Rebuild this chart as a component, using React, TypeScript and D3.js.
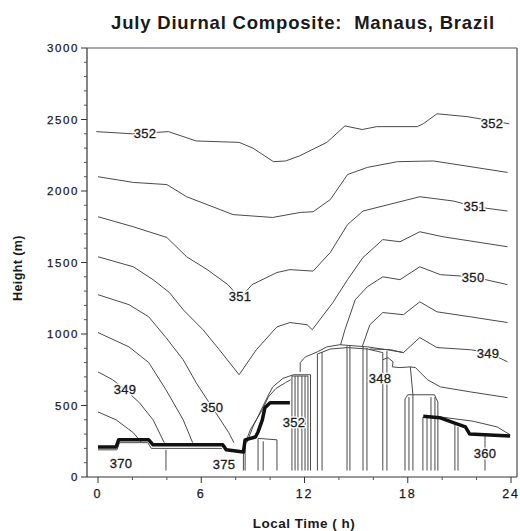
import React from 'react';
import * as d3 from 'd3';

type P = [number, number];

// ---- axis ticks ----
const xMajorTicks = [0, 6, 12, 18, 24];
const xMinorTicks = [2, 4, 8, 10, 14, 16, 20, 22];
const yMajorTicks = [0, 500, 1000, 1500, 2000, 2500, 3000];
const yMinorTicks = d3.range(0, 3001, 100).filter((v) => v % 500 !== 0);

// ---- contour lines (hour, height m) ----
const c352: P[] = [[-0.1,2415],[2.0,2400],[4.1,2415],[5.7,2350],[8.2,2340],[9.0,2300],[10.2,2205],[10.9,2210],[11.7,2245],[13.3,2340],[14.35,2455],[15.35,2430],[16.2,2450],[18.55,2450],[18.9,2470],[19.7,2540],[21.45,2520],[23.9,2470]];
const c3515: P[] = [[0,2100],[2.05,2060],[4.0,2045],[5.15,1960],[7.85,1835],[10.15,1815],[11.75,1850],[12.5,1855],[13.5,1940],[14.5,2115],[15.65,2165],[17.4,2205],[19.5,2210],[23.8,2130]];
const c351: P[] = [[0,1820],[2.05,1750],[4.0,1675],[5.15,1540],[6.35,1450],[7.55,1345],[8.25,1250],[8.95,1345],[10.4,1430],[11.15,1450],[12.5,1440],[13.5,1570],[14.5,1765],[15.4,1860],[17.55,1925],[18.7,1960],[20.65,1930],[21.9,1890],[23.8,1860]];
const c3505: P[] = [[0,1540],[2.05,1470],[3.2,1380],[4.15,1290],[4.95,1170],[6.1,1030],[7.05,890],[8.2,715],[9.2,890],[10.4,1050],[11.15,1080],[12.15,1065],[12.45,1030],[13.65,1220],[14.5,1380],[15.4,1535],[16.55,1660],[17.55,1645],[18.7,1715],[20.05,1680],[23.8,1610]];
const c350Left: P[] = [[0,1275],[1.8,1205],[2.95,1120],[3.95,975],[4.95,820],[5.7,660],[6.65,485],[7.6,310],[7.9,240]];
const c350Right: P[] = [[14.1,925],[14.35,1030],[14.95,1240],[15.65,1330],[16.55,1400],[17.55,1380],[18.7,1470],[19.9,1415],[21.8,1400],[23.8,1345]];
const c3495Left: P[] = [[0,1010],[1.8,910],[2.95,800],[3.95,610],[4.95,400],[5.5,240]];
const c3495Right: P[] = [[15.35,910],[15.8,1065],[16.55,1150],[17.75,1135],[18.7,1225],[19.7,1155],[21.65,1120],[23.8,1080]];
const c349Left: P[] = [[0,735],[0.85,680],[1.55,615],[2.4,520],[3.2,400],[3.85,240]];
const c349Right: P[] = [[15.8,895],[17.0,890],[17.75,870],[18.7,975],[19.7,905],[21.65,890],[22.7,870],[23.8,805]];
const c3485Left: P[] = [[0,455],[1.05,400],[2.05,310],[2.5,245]];
const c348: P[] = [[16.55,820],[16.85,835],[17.15,805],[17.1,770],[17.55,765],[18.15,770],[18.45,765],[19.15,680],[19.9,630],[21.65,595],[23.8,555]];
const c348Drop: P[] = [[18.15,770],[18.3,575]];
const eveningCurve: P[] = [[19.9,420],[21.8,390],[23.2,350],[23.95,295]];

// ---- boundary-layer structure ----
const nightStairLeft: P[] = [[0,210],[1.05,210],[1.2,260],[2.95,260],[3.2,225],[7.25,225],[7.45,190],[8.45,175],[8.55,260],[9.15,280],[9.3,315],[9.55,400],[9.7,485],[10.0,520],[11.15,520]];
const nightStairLower: P[] = [[0,190],[1.1,190],[1.25,240],[2.9,240],[3.1,200],[7.2,200]];
const morningInner: P[] = [[8.6,250],[8.85,330],[9.55,470],[9.9,560],[10.35,620],[10.9,660],[11.2,680]];
const eveningStair: P[] = [[18.9,425],[19.85,415],[20.65,380],[21.35,350],[21.6,300],[23.95,287]];
const morningOuter: P[] = [[8.65,240],[9.0,350],[9.85,560],[10.15,630],[10.75,690],[11.35,715],[12.35,715],[12.35,45]];
const middayTop: P[] = [[11.75,735],[11.75,800],[12.05,840],[12.75,875],[13.3,910],[14.05,925],[15.65,910],[16.8,890],[17.75,870]];
const middayInner: P[] = [[12.75,45],[12.75,860],[13.5,895],[14.5,905],[15.65,895],[16.55,870],[16.55,45]];
const afternoonBoxTop: P[] = [[17.84,45],[17.84,545],[18.0,575],[19.55,575],[19.75,524],[19.75,45]];
const morningBoxTop: P[] = [[9.3,270],[10.4,260]];
const labelBoxTop: P[] = [[11.27,706],[12.2,706]];
// vertical drops: [hour, top height]
const verticalDrops: P[] = [[3.95,190],[8.45,175],[8.55,255],[9.3,270],[9.6,250],[10.4,260],[11.27,706],[11.45,706],[11.62,706],[11.85,706],[12.03,706],[12.2,706],[13.02,874],[14.47,916],[14.64,916],[15.4,909],[15.63,902],[16.79,881],[18.07,559],[18.3,575],[18.88,420],[19.12,420],[19.35,559],[19.58,559],[20.74,364],[20.92,350],[22.49,287]];
const dropBase = 45;

// ---- contour labels ----
const labelText = ['352','352','351','351','350','349','349','350','352','348','370','375','360'];
const labelHour = [2.73, 22.9, 8.25, 21.9, 21.8, 22.67, 1.57, 6.63, 11.39, 16.39, 1.34, 7.32, 22.49];
const labelHeight = [2400, 2475, 1265, 1895, 1392, 867, 615, 483, 378, 692, 98, 91, 168];

const plotLeft = 87;
const plotRight = 517;

const xScale = d3.scaleLinear().domain([0, 24]).range([98, 511]);
const yScale = d3.scaleLinear().domain([0, 3000]).range([477, 48]);
const line = d3.line<P>().x((d) => xScale(d[0])).y((d) => yScale(d[1]));

const thinLines: P[][] = [c352, c3515, c351, c3505, c350Left, c350Right, c3495Left, c3495Right, c349Left, c349Right, c3485Left, c348, c348Drop, eveningCurve, morningOuter, morningInner, middayTop, middayInner, afternoonBoxTop, morningBoxTop, labelBoxTop, nightStairLower];
const thickLines: P[][] = [nightStairLeft, eveningStair];

export default function App() {
  const font = 'Liberation Sans, Arial, Helvetica, sans-serif';
  const ink = '#1a1a1a';
  const lineColor = '#4a4a4a';
  const y0 = yScale(0);
  const yTop = yScale(3000);
  return (
    <svg width={520} height={531} style={{ position: 'absolute', left: 0, top: 0, background: '#fff' }}>
      <rect x={0} y={0} width={520} height={531} fill="#fff" />
      {/* title */}
      <text x={303} y={29} textAnchor="middle" fontFamily={font} fontWeight="bold" fontSize={18.5} letterSpacing={0.8} fill={ink} style={{ whiteSpace: 'pre' }}>
        {'July Diurnal Composite:  Manaus, Brazil'}
      </text>
      {/* frame */}
      <line x1={plotLeft} x2={plotRight} y1={yTop} y2={yTop} stroke="#555" strokeWidth={1.2} />
      <line x1={plotRight} x2={plotRight} y1={yTop} y2={y0} stroke="#777" strokeWidth={1.6} />
      <line x1={plotLeft} x2={plotLeft} y1={yTop} y2={y0} stroke="#333" strokeWidth={1.2} />
      <line x1={plotLeft} x2={plotRight} y1={y0} y2={y0} stroke="#333" strokeWidth={1.2} />
      {/* y ticks */}
      {yMajorTicks.map((v) => (
        <g key={'ym' + v}>
          <line x1={plotLeft - 6} x2={plotLeft} y1={yScale(v)} y2={yScale(v)} stroke="#333" strokeWidth={1} />
          <text x={plotLeft - 8} y={yScale(v) + 4} textAnchor="end" fontFamily={font} fontSize={11.5} letterSpacing={1.6} fill={ink} stroke={ink} strokeWidth={0.25}>{v}</text>
        </g>
      ))}
      {yMinorTicks.map((v) => (
        <line key={'yn' + v} x1={plotLeft - 3} x2={plotLeft} y1={yScale(v)} y2={yScale(v)} stroke="#555" strokeWidth={1} />
      ))}
      {/* x ticks */}
      {xMajorTicks.map((v) => (
        <g key={'xm' + v}>
          <line x1={xScale(v)} x2={xScale(v)} y1={y0} y2={y0 + 6} stroke="#333" strokeWidth={1} />
          <text x={xScale(v)} y={y0 + 21} textAnchor="middle" fontFamily={font} fontSize={12.5} letterSpacing={1.8} fill={ink} stroke={ink} strokeWidth={0.25}>{v}</text>
        </g>
      ))}
      {xMinorTicks.map((v) => (
        <line key={'xn' + v} x1={xScale(v)} x2={xScale(v)} y1={y0} y2={y0 + 3} stroke="#555" strokeWidth={1} />
      ))}
      {/* axis titles */}
      <text transform={`translate(19,268) rotate(-90)`} textAnchor="middle" dominantBaseline="middle" fontFamily={font} fontWeight="bold" fontSize={12.5} letterSpacing={0.4} fill={ink}>Height (m)</text>
      <text x={304} y={528} textAnchor="middle" fontFamily={font} fontWeight="bold" fontSize={13.5} letterSpacing={0.5} fill={ink} style={{ whiteSpace: 'pre' }}>{'Local Time ( h)'}</text>
      {/* contours */}
      <g fill="none" stroke={lineColor} strokeWidth={1} strokeLinejoin="round">
        {thinLines.map((pts, i) => <path key={'t' + i} d={line(pts) || ''} />)}
        {verticalDrops.map((d, i) => (
          <line key={'v' + i} x1={xScale(d[0])} x2={xScale(d[0])} y1={yScale(d[1])} y2={yScale(dropBase)} />
        ))}
      </g>
      <g fill="none" stroke="#111" strokeWidth={3.5} strokeLinejoin="round">
        {thickLines.map((pts, i) => <path key={'k' + i} d={line(pts) || ''} />)}
      </g>
      {/* contour labels */}
      {labelText.map((t, i) => (
        <g key={'l' + i}>
          <text x={xScale(labelHour[i])} y={yScale(labelHeight[i])} dy="0.35em" textAnchor="middle" fontFamily={font} fontSize={13} letterSpacing={0.3}
            fill="#fff" stroke="#fff" strokeWidth={3} strokeLinejoin="round">{t}</text>
          <text x={xScale(labelHour[i])} y={yScale(labelHeight[i])} dy="0.35em" textAnchor="middle" fontFamily={font} fontSize={13} letterSpacing={0.3}
            fill={ink} stroke={ink} strokeWidth={0.3}>{t}</text>
        </g>
      ))}
    </svg>
  );
}
